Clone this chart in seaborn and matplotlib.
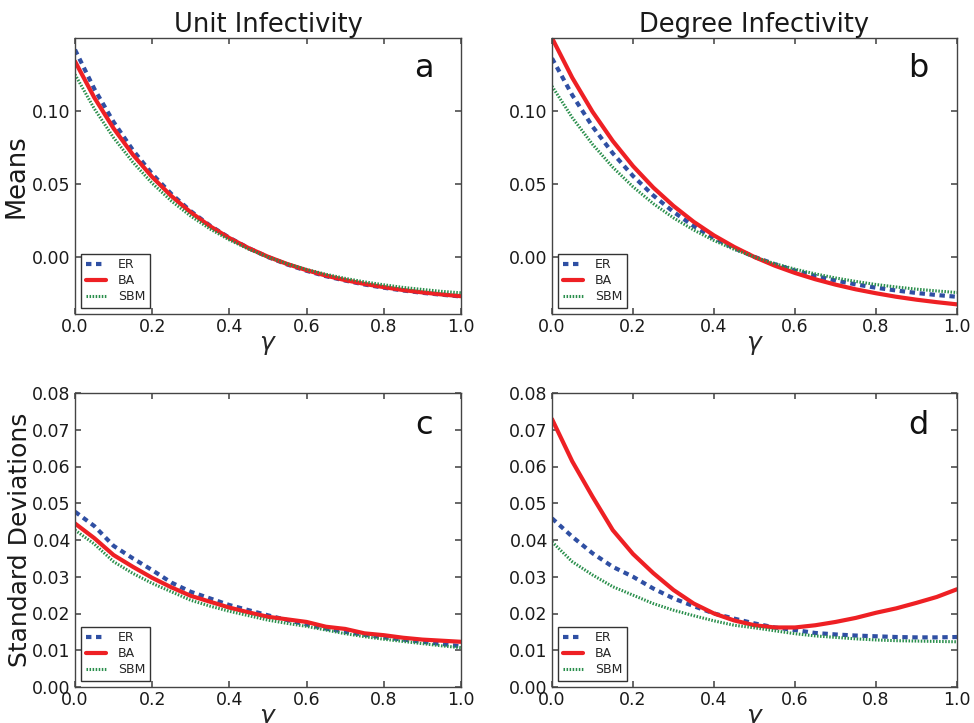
import numpy as np
import pandas as pd
import matplotlib
matplotlib.use("Agg")
import matplotlib.pyplot as plt
from matplotlib.ticker import FormatStrFormatter
import seaborn as sns

# gamma grid shared by every panel
gamma = [0.00, 0.05, 0.10, 0.15, 0.20, 0.25, 0.30, 0.35, 0.40, 0.45, 0.50,
         0.55, 0.60, 0.65, 0.70, 0.75, 0.80, 0.85, 0.90, 0.95, 1.00]

# a: means, unit infectivity
er_mean_unit = [0.1420, 0.1152, 0.0925, 0.0732, 0.0569, 0.0431, 0.0314, 0.0215, 0.0132, 0.0061, 0.0000,
                -0.0051, -0.0094, -0.0131, -0.0161, -0.0188, -0.0210, -0.0229, -0.0245, -0.0258, -0.0270]
ba_mean_unit = [0.1340, 0.1092, 0.0881, 0.0701, 0.0548, 0.0417, 0.0306, 0.0211, 0.0130, 0.0061, 0.0002,
                -0.0048, -0.0090, -0.0127, -0.0158, -0.0184, -0.0206, -0.0226, -0.0242, -0.0256, -0.0268]
sbm_mean_unit = [0.1250, 0.1016, 0.0817, 0.0649, 0.0505, 0.0383, 0.0280, 0.0192, 0.0117, 0.0054, 0.0000,
                 -0.0046, -0.0085, -0.0118, -0.0146, -0.0170, -0.0190, -0.0208, -0.0222, -0.0235, -0.0245]

# b: means, degree infectivity
er_mean_deg = [0.1361, 0.1109, 0.0894, 0.0711, 0.0555, 0.0422, 0.0309, 0.0212, 0.0130, 0.0061, 0.0001,
               -0.0049, -0.0093, -0.0129, -0.0161, -0.0187, -0.0210, -0.0229, -0.0246, -0.0260, -0.0272]
ba_mean_deg = [0.1500, 0.1228, 0.0995, 0.0795, 0.0623, 0.0476, 0.0350, 0.0241, 0.0148, 0.0069, 0.0000,
               -0.0059, -0.0109, -0.0152, -0.0189, -0.0221, -0.0248, -0.0272, -0.0292, -0.0309, -0.0324]
sbm_mean_deg = [0.1170, 0.0955, 0.0772, 0.0615, 0.0481, 0.0366, 0.0268, 0.0185, 0.0113, 0.0052, 0.0000,
                -0.0045, -0.0083, -0.0115, -0.0143, -0.0167, -0.0188, -0.0205, -0.0220, -0.0232, -0.0243]

# c: standard deviations, unit infectivity
er_std_unit = [0.0477, 0.0438, 0.0384, 0.0350, 0.0318, 0.0284, 0.0259, 0.0241, 0.0223, 0.0209, 0.0195,
               0.0182, 0.0170, 0.0159, 0.0150, 0.0142, 0.0135, 0.0129, 0.0123, 0.0117, 0.0111]
ba_std_unit = [0.0445, 0.0405, 0.0359, 0.0327, 0.0297, 0.0271, 0.0248, 0.0232, 0.0216, 0.0203, 0.0191,
               0.0184, 0.0177, 0.0164, 0.0158, 0.0146, 0.0141, 0.0134, 0.0129, 0.0126, 0.0123]
sbm_std_unit = [0.0427, 0.0389, 0.0341, 0.0309, 0.0282, 0.0259, 0.0236, 0.0220, 0.0206, 0.0194, 0.0182,
                0.0173, 0.0165, 0.0155, 0.0145, 0.0137, 0.0130, 0.0124, 0.0118, 0.0112, 0.0107]

# d: standard deviations, degree infectivity
er_std_deg = [0.0459, 0.0409, 0.0364, 0.0327, 0.0300, 0.0268, 0.0241, 0.0220, 0.0200, 0.0186, 0.0173,
              0.0162, 0.0155, 0.0147, 0.0143, 0.0140, 0.0138, 0.0136, 0.0135, 0.0135, 0.0136]
ba_std_deg = [0.0729, 0.0614, 0.0518, 0.0427, 0.0362, 0.0310, 0.0264, 0.0227, 0.0200, 0.0181, 0.0168,
              0.0162, 0.0162, 0.0168, 0.0177, 0.0188, 0.0202, 0.0214, 0.0229, 0.0245, 0.0266]
sbm_std_deg = [0.0395, 0.0341, 0.0305, 0.0273, 0.0250, 0.0227, 0.0209, 0.0194, 0.0180, 0.0168, 0.0161,
               0.0153, 0.0145, 0.0139, 0.0135, 0.0131, 0.0128, 0.0126, 0.0125, 0.0124, 0.0123]

networks = ["ER", "BA", "SBM"]
col_titles = ["Unit Infectivity", "Degree Infectivity"]

sns.set_theme(style="white", rc={
    "axes.edgecolor": "#444444",
    "axes.linewidth": 1.0,
    "xtick.direction": "in",
    "ytick.direction": "in",
    "xtick.top": True,
    "ytick.right": True,
    "xtick.bottom": True,
    "ytick.left": True,
    "xtick.major.size": 4,
    "ytick.major.size": 4,
    "xtick.color": "#555555",
    "ytick.color": "#555555",
    "xtick.labelcolor": "#1a1a1a",
    "ytick.labelcolor": "#1a1a1a",
    "xtick.major.pad": 3,
    "ytick.major.pad": 3,
    "xtick.labelsize": 12.5,
    "ytick.labelsize": 12.5,
})
plt.rcParams["font.family"] = ["DejaVu Sans"]
plt.rcParams["mathtext.fontset"] = "dejavusans"

styles = {
    "ER": dict(color="#2f4fa3", linewidth=3.0, linestyle=(0, (1.3, 1.1))),
    "BA": dict(color="#ee2024", linewidth=3.0, linestyle="-"),
    "SBM": dict(color="#2a8f4c", linewidth=2.2, linestyle=(0, (0.5, 0.5))),
}

panels = [
    ("a", [er_mean_unit, ba_mean_unit, sbm_mean_unit]),
    ("b", [er_mean_deg, ba_mean_deg, sbm_mean_deg]),
    ("c", [er_std_unit, ba_std_unit, sbm_std_unit]),
    ("d", [er_std_deg, ba_std_deg, sbm_std_deg]),
]

W, H = 974, 723
fig = plt.figure(figsize=(W / 100, H / 100), dpi=100)
boxes = [(75, 38, 461, 314), (552, 38, 957, 314),
         (75, 393, 461, 687), (552, 393, 957, 687)]

for i, ((letter, series), (l, t, r, b)) in enumerate(zip(panels, boxes)):
    ax = fig.add_axes([l / W, 1 - b / H, (r - l) / W, (b - t) / H])
    for name, vals in zip(networks, series):
        df = pd.DataFrame({"gamma": gamma, "value": vals})
        sns.lineplot(data=df, x="gamma", y="value", ax=ax, label=name,
                     errorbar=None, **styles[name])
    ax.set_xlim(0, 1)
    ax.set_xticks([0, 0.2, 0.4, 0.6, 0.8, 1.0])
    ax.xaxis.set_major_formatter(FormatStrFormatter("%.1f"))
    if i < 2:
        ax.set_ylim(-0.039, 0.150)
        ax.set_yticks([0.0, 0.05, 0.10])
        ax.set_title(col_titles[i], fontsize=18.5, pad=4, color="#1a1a1a")
    else:
        ax.set_ylim(0, 0.08)
        ax.set_yticks([0, 0.01, 0.02, 0.03, 0.04, 0.05, 0.06, 0.07, 0.08])
    ax.yaxis.set_major_formatter(FormatStrFormatter("%.2f"))
    ax.set_xlabel(r"$\gamma$", fontsize=18, labelpad=-2)
    if i == 0:
        ax.set_ylabel("Means", fontsize=18.5, labelpad=2, color="#1a1a1a")
    elif i == 2:
        ax.set_ylabel("Standard Deviations", fontsize=18, labelpad=0, color="#1a1a1a")
    else:
        ax.set_ylabel("")
    ax.text(0.905, 0.89, letter, transform=ax.transAxes, fontsize=23,
            ha="center", va="center", color="#111111")
    leg = ax.legend(loc="lower left", fontsize=9, handlelength=1.6,
                    labelspacing=0.25, borderpad=0.35, handletextpad=1.0,
                    fancybox=False, framealpha=1, borderaxespad=0.5)
    leg.get_frame().set_edgecolor("#333333")
    leg.get_frame().set_linewidth(1.0)

fig.savefig("out.png", dpi=100)
